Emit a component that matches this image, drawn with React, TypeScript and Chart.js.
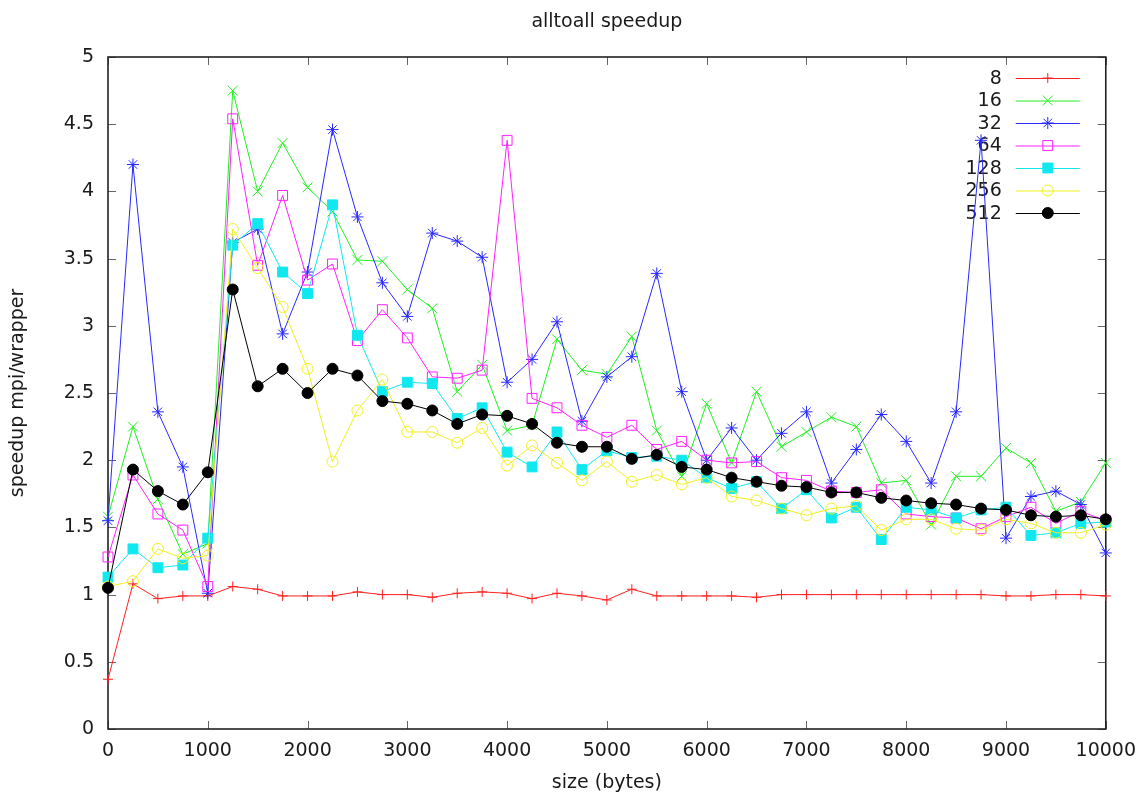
import React, { useEffect, useRef } from "react";
import { Chart, registerables } from "chart.js";
import { drawPoint } from "chart.js/helpers";

Chart.register(...registerables);

const sizes = [
  0, 250, 500, 750, 1000, 1250, 1500, 1750, 2000, 2250, 2500, 2750, 3000, 3250,
  3500, 3750, 4000, 4250, 4500, 4750, 5000, 5250, 5500, 5750, 6000, 6250, 6500,
  6750, 7000, 7250, 7500, 7750, 8000, 8250, 8500, 8750, 9000, 9250, 9500, 9750,
  10000,
];

const s8 = [
  0.37, 1.08, 0.97, 0.99, 0.99, 1.06, 1.04, 0.99, 0.99, 0.99, 1.02, 1.0, 1.0,
  0.98, 1.01, 1.02, 1.01, 0.97, 1.01, 0.99, 0.96, 1.04, 0.99, 0.99, 0.99, 0.99,
  0.98, 1.0, 1.0, 1.0, 1.0, 1.0, 1.0, 1.0, 1.0, 1.0, 0.99, 0.99, 1.0, 1.0, 0.99,
];
const s16 = [
  1.58, 2.25, 1.71, 1.3, 1.38, 4.75, 4.0, 4.36, 4.03, 3.85, 3.49, 3.48, 3.27,
  3.13, 2.51, 2.71, 2.22, 2.26, 2.9, 2.67, 2.64, 2.92, 2.22, 1.88, 2.42, 1.98,
  2.51, 2.1, 2.21, 2.32, 2.25, 1.83, 1.85, 1.52, 1.88, 1.88, 2.09, 1.98, 1.62,
  1.69, 1.98,
];
const s32 = [
  1.55, 4.2, 2.36, 1.95, 1.01, 3.62, 3.72, 2.94, 3.4, 4.46, 3.81, 3.32, 3.07,
  3.69, 3.63, 3.51, 2.58, 2.75, 3.03, 2.29, 2.62, 2.77, 3.39, 2.51, 2.0, 2.24,
  2.0, 2.2, 2.36, 1.83, 2.08, 2.34, 2.14, 1.83, 2.36, 4.38, 1.42, 1.73, 1.77,
  1.67, 1.31,
];
const s64 = [
  1.28, 1.89, 1.6, 1.48, 1.06, 4.54, 3.45, 3.97, 3.34, 3.46, 2.89, 3.12, 2.91,
  2.62, 2.61, 2.67, 4.38, 2.46, 2.39, 2.26, 2.17, 2.26, 2.08, 2.14, 2.0, 1.98,
  1.99, 1.87, 1.85, 1.77, 1.76, 1.78, 1.6, 1.58, 1.57, 1.49, 1.58, 1.65, 1.53,
  1.62, 1.55,
];
const s128 = [
  1.13, 1.34, 1.2, 1.22, 1.42, 3.6, 3.76, 3.4, 3.24, 3.9, 2.93, 2.51, 2.58, 2.57,
  2.31, 2.39, 2.06, 1.95, 2.21, 1.93, 2.07, 2.02, 2.03, 2.0, 1.87, 1.79, 1.84,
  1.64, 1.78, 1.57, 1.65, 1.41, 1.65, 1.63, 1.57, 1.63, 1.65, 1.44, 1.46, 1.53,
  1.54,
];
const s256 = [
  1.06, 1.1, 1.34, 1.27, 1.29, 3.72, 3.43, 3.14, 2.68, 1.99, 2.37, 2.6, 2.21,
  2.21, 2.13, 2.24, 1.96, 2.11, 1.98, 1.85, 1.99, 1.84, 1.89, 1.82, 1.87, 1.73,
  1.7, 1.64, 1.59, 1.64, 1.66, 1.48, 1.56, 1.56, 1.49, 1.48, 1.56, 1.53, 1.46,
  1.46, 1.52,
];
const s512 = [
  1.05, 1.93, 1.77, 1.67, 1.91, 3.27, 2.55, 2.68, 2.5, 2.68, 2.63, 2.44, 2.42,
  2.37, 2.27, 2.34, 2.33, 2.27, 2.13, 2.1, 2.1, 2.01, 2.04, 1.95, 1.93, 1.87,
  1.84, 1.81, 1.8, 1.76, 1.76, 1.72, 1.7, 1.68, 1.67, 1.64, 1.63, 1.59, 1.58,
  1.59, 1.56,
];

const seriesLabels = ["8", "16", "32", "64", "128", "256", "512"];
const seriesValues = [s8, s16, s32, s64, s128, s256, s512];
const seriesColors = ["#ff2020", "#20f020", "#2828ff", "#ff20ff", "#10e8f0", "#f0f020", "#000000"];
const seriesPointStyles = ["cross", "crossRot", "star", "rect", "rect", "circle", "circle"];
const seriesPointRadius = [5, 7, 6, 7, 7, 5.5, 5.5];
const seriesFilled = [false, false, false, false, true, false, true];

const xTickValues = [0, 1000, 2000, 3000, 4000, 5000, 6000, 7000, 8000, 9000, 10000];
const yTickValues = [0, 0.5, 1, 1.5, 2, 2.5, 3, 3.5, 4, 4.5, 5];

const chartTitle = "alltoall speedup";
const FONT = "'DejaVu Sans', 'Liberation Sans', Arial, sans-serif";
const FS = 19;

const framePlugin = {
  id: "gnuplotFrame",
  beforeDatasetsDraw(chart: any) {
    const { ctx, chartArea } = chart;
    const { left, right, top, bottom } = chartArea;
    const xs = chart.scales.x;
    const ys = chart.scales.y;
    ctx.save();
    // title centred over the plot box
    ctx.font = `${FS}px ${FONT}`;
    ctx.fillStyle = "#1a1a1a";
    ctx.textAlign = "center";
    ctx.textBaseline = "middle";
    ctx.fillText(chartTitle, (left + right) / 2, 22);

    // inward ticks on all sides
    ctx.strokeStyle = "#666";
    ctx.lineWidth = 1;
    const tl = 8;
    ctx.beginPath();
    xTickValues.forEach((v) => {
      const px = Math.round(xs.getPixelForValue(v)) + 0.5;
      ctx.moveTo(px, bottom);
      ctx.lineTo(px, bottom - tl);
      ctx.moveTo(px, top);
      ctx.lineTo(px, top + tl);
    });
    yTickValues.forEach((v) => {
      const py = Math.round(ys.getPixelForValue(v)) + 0.5;
      ctx.moveTo(left, py);
      ctx.lineTo(left + tl, py);
      ctx.moveTo(right, py);
      ctx.lineTo(right - tl, py);
    });
    ctx.stroke();
    // border
    ctx.strokeStyle = "#222";
    ctx.lineWidth = 1.6;
    ctx.strokeRect(left, top, right - left, bottom - top);

    // legend (inside, top-right)
    chart.data.datasets.forEach((ds: any, i: number) => {
      const y = top + 21 + i * 22.5;
      ctx.font = `${FS}px ${FONT}`;
      ctx.fillStyle = "#1a1a1a";
      ctx.textAlign = "right";
      ctx.textBaseline = "middle";
      ctx.fillText(ds.label, right - 104, y + 1);
      ctx.strokeStyle = ds.borderColor;
      ctx.lineWidth = 1;
      ctx.beginPath();
      ctx.moveTo(right - 90, y + 0.5);
      ctx.lineTo(right - 26, y + 0.5);
      ctx.stroke();
      ctx.fillStyle = ds.pointBackgroundColor;
      ctx.strokeStyle = ds.pointBorderColor;
      ctx.lineWidth = ds.pointBorderWidth;
      drawPoint(
        ctx,
        { pointStyle: ds.pointStyle, radius: ds.pointRadius, rotation: 0, borderWidth: ds.pointBorderWidth },
        right - 58,
        y
      );
    });
    ctx.restore();
  },
};

export default function App() {
  const canvasRef = useRef<HTMLCanvasElement | null>(null);

  useEffect(() => {
    const canvas = canvasRef.current;
    if (!canvas) return;
    const datasets = seriesLabels.map((label, i) => ({
      label,
      data: sizes.map((x, j) => ({ x, y: seriesValues[i][j] })),
      borderColor: seriesColors[i],
      backgroundColor: seriesColors[i],
      borderWidth: 1,
      pointStyle: seriesPointStyles[i],
      pointRadius: seriesPointRadius[i],
      pointBorderWidth: 1,
      pointBorderColor: seriesColors[i],
      pointBackgroundColor: seriesFilled[i] ? seriesColors[i] : "rgba(0,0,0,0)",
      pointHoverRadius: seriesPointRadius[i],
      tension: 0,
      fill: false,
      clip: false as any,
      order: seriesLabels.length - 1 - i,
    }));

    const chart = new Chart(canvas, {
      type: "line",
      data: { datasets },
      options: {
        responsive: false,
        animation: false,
        devicePixelRatio: 1,
        layout: { padding: { left: 0, right: 40, top: 57, bottom: 0 } },
        plugins: {
          legend: { display: false },
          tooltip: { enabled: false },
          title: { display: false },
        },
        scales: {
          x: {
            type: "linear",
            min: 0,
            max: 10000,
            grid: { display: false, drawTicks: false },
            border: { display: false },
            afterFit: (scale: any) => {
              scale.height = 65;
            },
            afterBuildTicks: (scale: any) => {
              scale.ticks = xTickValues.map((v) => ({ value: v }));
            },
            ticks: {
              padding: 11,
              maxRotation: 0,
              autoSkip: false,
              color: "#1a1a1a",
              font: { family: FONT, size: FS },
              callback: (v: any) => String(v),
            },
            title: {
              display: true,
              text: "size (bytes)",
              color: "#1a1a1a",
              font: { family: FONT, size: FS, lineHeight: 1.1 },
              padding: { top: 0, bottom: 0 },
            },
          },
          y: {
            type: "linear",
            min: 0,
            max: 5,
            grid: { display: false, drawTicks: false },
            border: { display: false },
            afterFit: (scale: any) => {
              scale.width = 108;
            },
            afterBuildTicks: (scale: any) => {
              scale.ticks = yTickValues.map((v) => ({ value: v }));
            },
            ticks: {
              padding: 14,
              autoSkip: false,
              color: "#1a1a1a",
              font: { family: FONT, size: FS },
              callback: (v: any) => String(v),
            },
            title: {
              display: true,
              text: "speedup mpi/wrapper",
              color: "#1a1a1a",
              font: { family: FONT, size: FS },
              padding: { top: 6.6, bottom: 0 },
            },
          },
        },
      },
      plugins: [framePlugin],
    });
    return () => chart.destroy();
  }, []);

  return (
    <div style={{ position: "fixed", left: 0, top: 0, width: 1147, height: 794, background: "#fff" }}>
      <canvas ref={canvasRef} width={1147} height={794} style={{ display: "block" }} />
    </div>
  );
}
